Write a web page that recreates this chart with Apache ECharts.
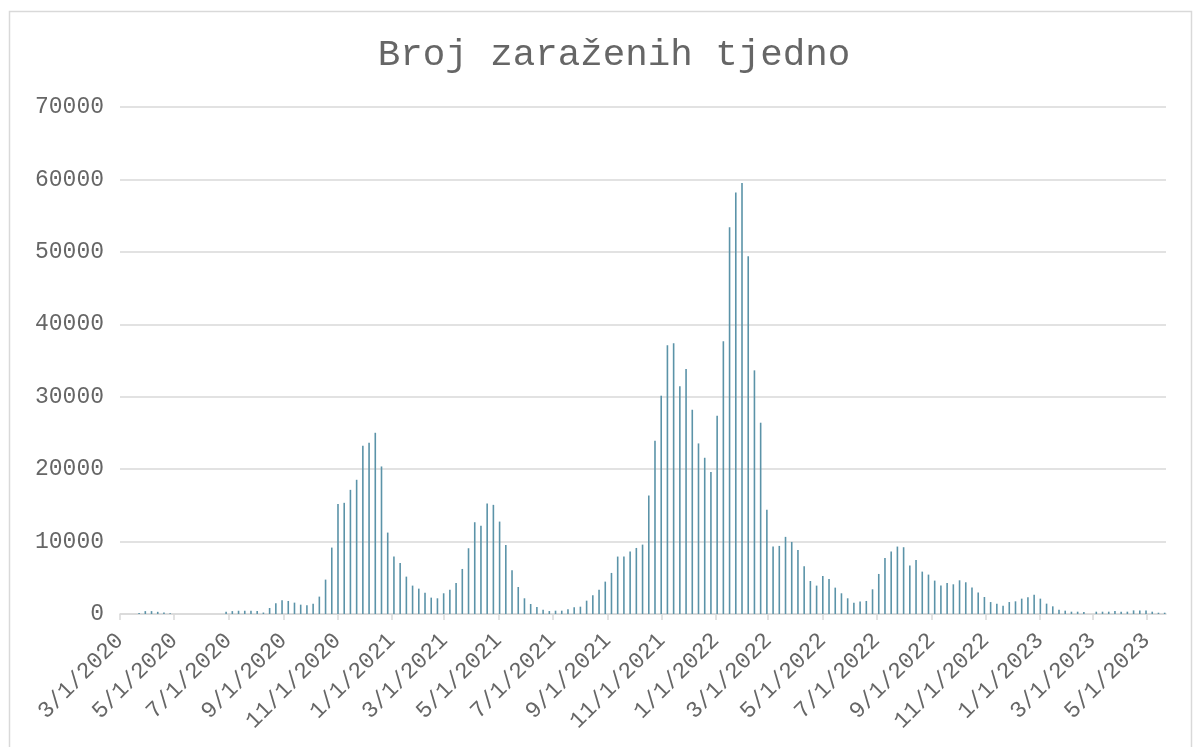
<!DOCTYPE html>
<html>
<head>
<meta charset="utf-8">
<script src="https://cdn.jsdelivr.net/npm/echarts@6/dist/echarts.min.js"></script>
<style>
html,body{margin:0;padding:0;background:#fff;}
#chart{width:1202px;height:747px;}
</style>
</head>
<body>
<div id="chart"></div>
<script>
// ---- data ----
const titleText = 'Broj zaraženih tjedno';
const firstWeek = [2020, 3, 22]; // first weekly date (Sunday)
const weeklyCases = [
  150, 400, 400, 300, 200, 100,
  0, 0, 0, 0, 0, 0, 0, 0,
  300, 400, 450, 450, 450, 400, 200, 830, 1470, 1890,
  1800, 1570, 1290, 1200, 1430, 2400, 4750, 9170, 15200, 15350,
  17140, 18530, 23230, 23640, 25020, 20370, 11240, 7930, 7050, 5160,
  3920, 3500, 2950, 2260, 2170, 2860, 3360, 4290, 6220, 9080,
  12670, 12170, 15250, 15070, 12760, 9540, 6040, 3730, 2170, 1380,
  970, 600, 410, 460, 460, 645, 920,
  1010, 1840, 2580, 3360, 4470, 5670, 7930, 7930, 8620, 9120,
  9580, 16360, 23920, 30140, 37100, 37370, 31430, 33830, 28200, 23550,
  21570, 19590, 27370, 37650, 53410, 58200, 59490, 49400, 33640, 26410,
  14380, 9310, 9400, 10650, 9950, 8850, 6590, 4560, 3920, 5250,
  4840, 3640, 2860, 2170, 1570, 1710, 1800, 3410, 5530, 7740,
  8620, 9310, 9220, 6680, 7470, 5850, 5440, 4610, 3920, 4290,
  4100, 4650, 4380, 3660, 2980, 2350, 1650, 1430, 1150, 1650,
  1750, 2120, 2300, 2670, 2120, 1430, 1060, 600, 460, 320,
  320, 280, 0, 320, 320, 320, 410, 320, 320, 500,
  500, 500, 320, 180, 180
];
const xTickLabels = [
  '3/1/2020','5/1/2020','7/1/2020','9/1/2020','11/1/2020',
  '1/1/2021','3/1/2021','5/1/2021','7/1/2021','9/1/2021','11/1/2021',
  '1/1/2022','3/1/2022','5/1/2022','7/1/2022','9/1/2022','11/1/2022',
  '1/1/2023','3/1/2023','5/1/2023'
];
const xAxisEnd = '5/23/2023';
const yTicks = [0, 10000, 20000, 30000, 40000, 50000, 60000, 70000];

// ---- helpers ----
const DAY = 86400000;
function parseMDY(s) {
  const p = s.split('/').map(Number);
  return Date.UTC(p[2], p[0] - 1, p[1]) / DAY; // day number
}
function fmt(v) {
  const d = new Date(Math.round(v) * DAY);
  return (d.getUTCMonth() + 1) + '/' + d.getUTCDate() + '/' + d.getUTCFullYear();
}
const tickValues = xTickLabels.map(parseMDY);
const firstDay = Date.UTC(firstWeek[0], firstWeek[1] - 1, firstWeek[2]) / DAY;
const seriesData = weeklyCases.map((v, i) => [firstDay + 7 * i + 0.5, v]);

const textColor = '#666666';
const lineColor = '#d9d9d9';
const font = '"Liberation Mono", "Courier New", monospace';

const chart = echarts.init(document.getElementById('chart'), null, {renderer: 'canvas'});
chart.setOption({
  animation: false,
  backgroundColor: '#ffffff',
  graphic: [{
    type: 'rect',
    shape: {x: 9.5, y: 11.5, width: 1182, height: 800},
    style: {fill: null, stroke: lineColor, lineWidth: 1.5},
    silent: true,
    z: -10
  }],
  title: {
    text: titleText,
    left: 609,
    top: 31,
    textAlign: 'center',
    textStyle: {fontFamily: font, fontSize: 37.5, fontWeight: 'normal', color: textColor}
  },
  grid: {left: 120, right: 36, top: 107, bottom: 133, containLabel: false},
  xAxis: {
    type: 'value',
    min: tickValues[0],
    max: parseMDY(xAxisEnd),
    splitLine: {show: false},
    axisLine: {show: true, lineStyle: {color: lineColor, width: 1.5}},
    axisTick: {show: true, customValues: tickValues, length: 6, lineStyle: {color: lineColor, width: 1.5}},
    axisLabel: {
      customValues: tickValues,
      formatter: fmt,
      rotate: 45,
      margin: 23,
      fontFamily: font,
      fontSize: 23,
      color: textColor,
      hideOverlap: false
    }
  },
  yAxis: {
    type: 'value',
    min: yTicks[0],
    max: yTicks[yTicks.length - 1],
    interval: 10000,
    axisLine: {show: false},
    axisTick: {show: false},
    splitLine: {show: true, lineStyle: {color: lineColor, width: 1.5}},
    axisLabel: {formatter: v => String(v), fontFamily: font, fontSize: 23, color: textColor, margin: 16}
  },
  series: [{
    type: 'bar',
    data: seriesData,
    barWidth: 1.6,
    itemStyle: {color: '#5b93a8'}
  }]
});
</script>
</body>
</html>
